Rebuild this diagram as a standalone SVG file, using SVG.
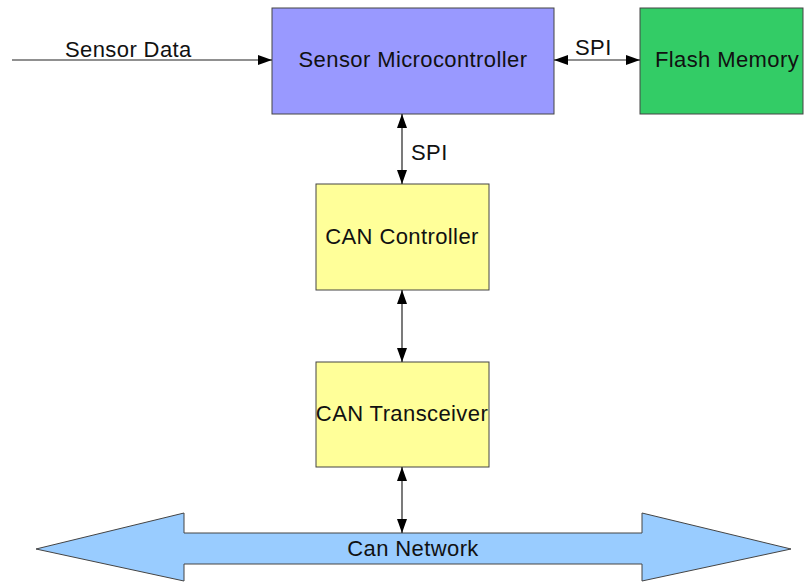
<svg xmlns="http://www.w3.org/2000/svg" width="804" height="582" viewBox="0 0 804 582">
<style>
text{font-family:"Liberation Sans",Arial,sans-serif;font-size:22px;letter-spacing:0.4px;fill:#111;}
.box{stroke:#444;stroke-width:1}
.c{text-anchor:middle}
.ln{stroke:#222;stroke-width:1.2;fill:none}
</style>
<defs>
<marker id="ah" viewBox="0 0 14 10" refX="14" refY="5" markerWidth="14" markerHeight="10" markerUnits="userSpaceOnUse" orient="auto-start-reverse">
<path d="M0,0 L14,5 L0,10 z" fill="#000"/>
</marker>
</defs>
<rect width="804" height="582" fill="#fff"/>
<g id="network">
<polygon class="box" points="36,549 184,513 184,533 642,533 642,513 791,549 642,581 642,564 184,564 184,581" fill="#99ccff"/>
<text class="c" x="413" y="556">Can Network</text>
</g>
<g id="sensor-mcu">
<rect class="box" x="272" y="8" width="282" height="106" fill="#9999ff"/>
<text class="c" x="413" y="67">Sensor Microcontroller</text>
</g>
<g id="flash">
<rect class="box" x="640" y="8" width="163" height="106" fill="#33cc66"/>
<text class="c" x="727" y="67">Flash Memory</text>
</g>
<g id="can-controller">
<rect class="box" x="316" y="184" width="173" height="106" fill="#ffff99"/>
<text class="c" x="402" y="244">CAN Controller</text>
</g>
<g id="can-transceiver">
<rect class="box" x="316" y="362" width="173" height="105" fill="#ffff99"/>
<text class="c" x="402" y="421">CAN Transceiver</text>
</g>
<g id="connectors">
<line class="ln" x1="12" y1="60" x2="272" y2="60" marker-end="url(#ah)"/>
<text x="65" y="57">Sensor Data</text>
<line class="ln" x1="554" y1="60" x2="640" y2="60" marker-start="url(#ah)" marker-end="url(#ah)"/>
<text x="575" y="55">SPI</text>
<line class="ln" x1="402" y1="114" x2="402" y2="184" marker-start="url(#ah)" marker-end="url(#ah)"/>
<text x="411" y="160">SPI</text>
<line class="ln" x1="402" y1="290" x2="402" y2="362" marker-start="url(#ah)" marker-end="url(#ah)"/>
<line class="ln" x1="402" y1="467" x2="402" y2="533" marker-start="url(#ah)" marker-end="url(#ah)"/>
</g>
</svg>
